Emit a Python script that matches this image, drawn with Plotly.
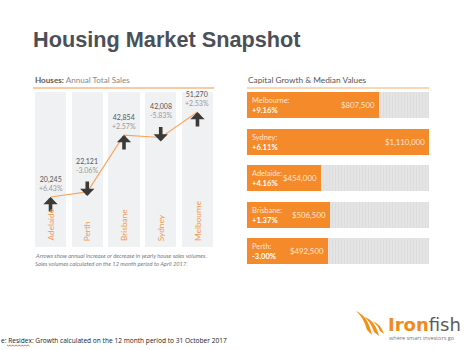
import plotly.graph_objects as go

W, H = 465, 350
def px(x): return x / W
def py(y): return 1 - y / H

# ---------------- data ----------------
sales_cities = ["Adelaide", "Perth", "Brisbane", "Sydney", "Melbourne"]
sales_values = [20245, 22121, 42854, 42008, 51270]
sales_change = [6.43, -3.06, 2.57, -5.83, 2.53]

growth_cities = ["Melbourne", "Sydney", "Adelaide", "Brisbane", "Perth"]
growth_pct = [9.16, 6.11, 4.16, 1.37, -3.00]
median_values = [807500, 1110000, 454000, 506500, 492500]

ORANGE = "#f58a2b"
LINE_OR = "#f7a560"
DARK = "#3b3a36"
SALES_YMIN, SALES_YMAX = 2000, 58600
MED_MAX = max(median_values)

fig = go.Figure()

# ---------------- left chart: columns ----------------
idx = list(range(len(sales_cities)))
fig.add_trace(go.Bar(
    x=idx, y=[SALES_YMAX - SALES_YMIN] * len(idx), base=SALES_YMIN,
    width=0.845, marker=dict(color="#f0f1f3", line=dict(width=0)),
    hoverinfo="skip", xaxis="x", yaxis="y", showlegend=False))
fig.add_trace(go.Scatter(
    x=idx, y=sales_values, mode="lines",
    line=dict(color=LINE_OR, width=1.1), xaxis="x", yaxis="y",
    showlegend=False, hoverinfo="skip"))

annotations = []
for i, (v, c) in enumerate(zip(sales_values, sales_change)):
    up = c >= 0
    annotations.append(dict(
        x=i, y=v, xref="x", yref="y", text="", showarrow=True,
        ax=0, ay=16 if up else -16, axref="pixel", ayref="pixel",
        yshift=0 if up else -4,
        arrowhead=1, arrowsize=0.66, arrowwidth=3.6, arrowcolor=DARK))
    annotations.append(dict(
        x=i, y=v, xref="x", yref="y", showarrow=False,
        text=f"<span style='color:#555'>{v:,}</span><br><span style='color:#9a9a9a'>{c:+.2f}%</span>",
        font=dict(family="Lato", size=7), yanchor="bottom", xanchor="center",
        yshift=3 if up else 16))
    annotations.append(dict(
        x=i, y=SALES_YMIN, xref="x", yref="y", showarrow=False,
        text=sales_cities[i], textangle=-90, yanchor="bottom", xanchor="center",
        yshift=4, font=dict(family="Lato", size=8.3, color="#f39a4c")))

# ---------------- right chart: bars ----------------
fig.add_trace(go.Bar(
    y=growth_cities, x=[MED_MAX] * len(growth_cities), orientation="h",
    width=0.712, marker=dict(color="#e4e4e4", line=dict(width=0),
                             pattern=dict(shape="|", fgcolor="#d6d6d6", size=3, solidity=0.3)),
    xaxis="x2", yaxis="y2", showlegend=False, hoverinfo="skip"))
fig.add_trace(go.Bar(
    y=growth_cities, x=median_values, orientation="h",
    width=0.712, marker=dict(color=ORANGE, line=dict(width=0)),
    xaxis="x2", yaxis="y2", showlegend=False, hoverinfo="skip"))

for city, g, m in zip(growth_cities, growth_pct, median_values):
    annotations.append(dict(
        x=0, y=city, xref="x2", yref="y2", showarrow=False, text=f"{city}:",
        xanchor="left", yanchor="middle", xshift=3, yshift=4.5,
        font=dict(family="Lato", size=7.4, color="#fde7d3")))
    annotations.append(dict(
        x=0, y=city, xref="x2", yref="y2", showarrow=False, text=f"<b>{g:+.2f}%</b>",
        xanchor="left", yanchor="middle", xshift=3, yshift=-5,
        font=dict(family="Lato", size=7.6, color="white")))
    annotations.append(dict(
        x=m, y=city, xref="x2", yref="y2", showarrow=False, text=f"${m:,}",
        xanchor="right", yanchor="middle", xshift=-2, yshift=0,
        font=dict(family="Lato", size=7.8, color="#fde7d3")))

# ---------------- texts ----------------
annotations += [
    dict(x=px(31), y=py(39), xref="paper", yref="paper", xanchor="left", yanchor="middle",
         text="<b>Housing Market Snapshot</b>", showarrow=False,
         font=dict(family="Liberation Sans", size=21.7, color="#4b5058")),
    dict(x=px(33), y=py(80), xref="paper", yref="paper", xanchor="left", yanchor="middle",
         text="<b style='color:#5a5a5a'>Houses:</b> <span style='color:#8a8a8a'>Annual Total Sales</span>",
         showarrow=False, font=dict(family="Lato", size=8.1)),
    dict(x=px(246), y=py(80), xref="paper", yref="paper", xanchor="left", yanchor="middle",
         text="Capital Growth &amp; Median Values", showarrow=False,
         font=dict(family="Lato", size=8.3, color="#555")),
    dict(x=px(33), y=py(255), xref="paper", yref="paper", xanchor="left", yanchor="middle",
         text="<i>Arrows show annual increase or decrease in yearly house sales volumes.</i>",
         showarrow=False, font=dict(family="Lato", size=5.8, color="#7a7a7a")),
    dict(x=px(33), y=py(263), xref="paper", yref="paper", xanchor="left", yanchor="middle",
         text="<i>Sales volumes calculated on the 12 month period to April 2017.</i>",
         showarrow=False, font=dict(family="Lato", size=5.8, color="#7a7a7a")),
    dict(x=px(-1), y=py(340), xref="paper", yref="paper", xanchor="left", yanchor="middle",
         text="e: Residex: Growth calculated on the 12 month period to 31 October 2017",
         showarrow=False, font=dict(family="Open Sans", size=6.6, color="#222")),
    dict(x=px(386), y=py(324), xref="paper", yref="paper", xanchor="left", yanchor="middle",
         text="<b style='color:#f08a1c'>Iron</b><span style='color:#5c5c5c'>fish</span>",
         showarrow=False, font=dict(family="DejaVu Sans", size=18)),
    dict(x=px(387), y=py(337.5), xref="paper", yref="paper", xanchor="left", yanchor="middle",
         text="where smart investors go", showarrow=False,
         font=dict(family="Open Sans", size=5.5, color="#777")),
]

def wedge(x0, y0, cx1, cy1, x1, y1, cx2, cy2, x2, y2):
    return dict(type="path", xref="paper", yref="paper",
                path=f"M {px(x0)} {py(y0)} Q {px(cx1)} {py(cy1)} {px(x1)} {py(y1)} "
                     f"L {px(x2)} {py(y2)} Q {px(cx2)} {py(cy2)} {px(x0)} {py(y0)} Z",
                fillcolor="#f39018", line=dict(width=0))

shapes = [
    dict(type="line", xref="paper", yref="paper", x0=px(33), x1=px(214), y0=py(88), y1=py(88),
         line=dict(color="#f7b782", width=1.5)),
    dict(type="line", xref="paper", yref="paper", x0=px(247), x1=px(429), y0=py(88), y1=py(88),
         line=dict(color="#f7c89e", width=1.5)),
    # red spell-check underline
    dict(type="path", xref="paper", yref="paper",
         path="M {} {} ".format(px(7), py(345)) + " ".join(
             "L {} {}".format(px(7 + k * 1.5), py(345 + (1 if k % 2 else 0))) for k in range(1, 16)),
         line=dict(color="#d33", width=0.7)),
    # logo swoosh
    wedge(356, 311, 368, 316, 372, 335, 364, 318, 367, 330),
    wedge(364, 317, 375, 320, 379, 336, 371, 322, 374, 332),
    wedge(372, 321, 381, 324, 384, 334, 378, 325, 380, 331),
]

fig.update_layout(
    width=W, height=H, margin=dict(l=0, r=0, t=0, b=0),
    paper_bgcolor="white", plot_bgcolor="rgba(0,0,0,0)",
    barmode="overlay", bargap=0,
    xaxis=dict(domain=[px(34), px(214)], range=[-0.45, 4.45], visible=False, fixedrange=True),
    yaxis=dict(domain=[py(247), py(92)], range=[SALES_YMIN, SALES_YMAX], visible=False, fixedrange=True),
    xaxis2=dict(domain=[px(247), px(429)], range=[0, MED_MAX], visible=False, anchor="y2"),
    yaxis2=dict(domain=[py(269.25), py(86.75)], range=[4.5, -0.5], visible=False, anchor="x2",
                type="category", categoryorder="array", categoryarray=growth_cities),
    annotations=annotations, shapes=shapes,
)

fig.write_html("out.html")
